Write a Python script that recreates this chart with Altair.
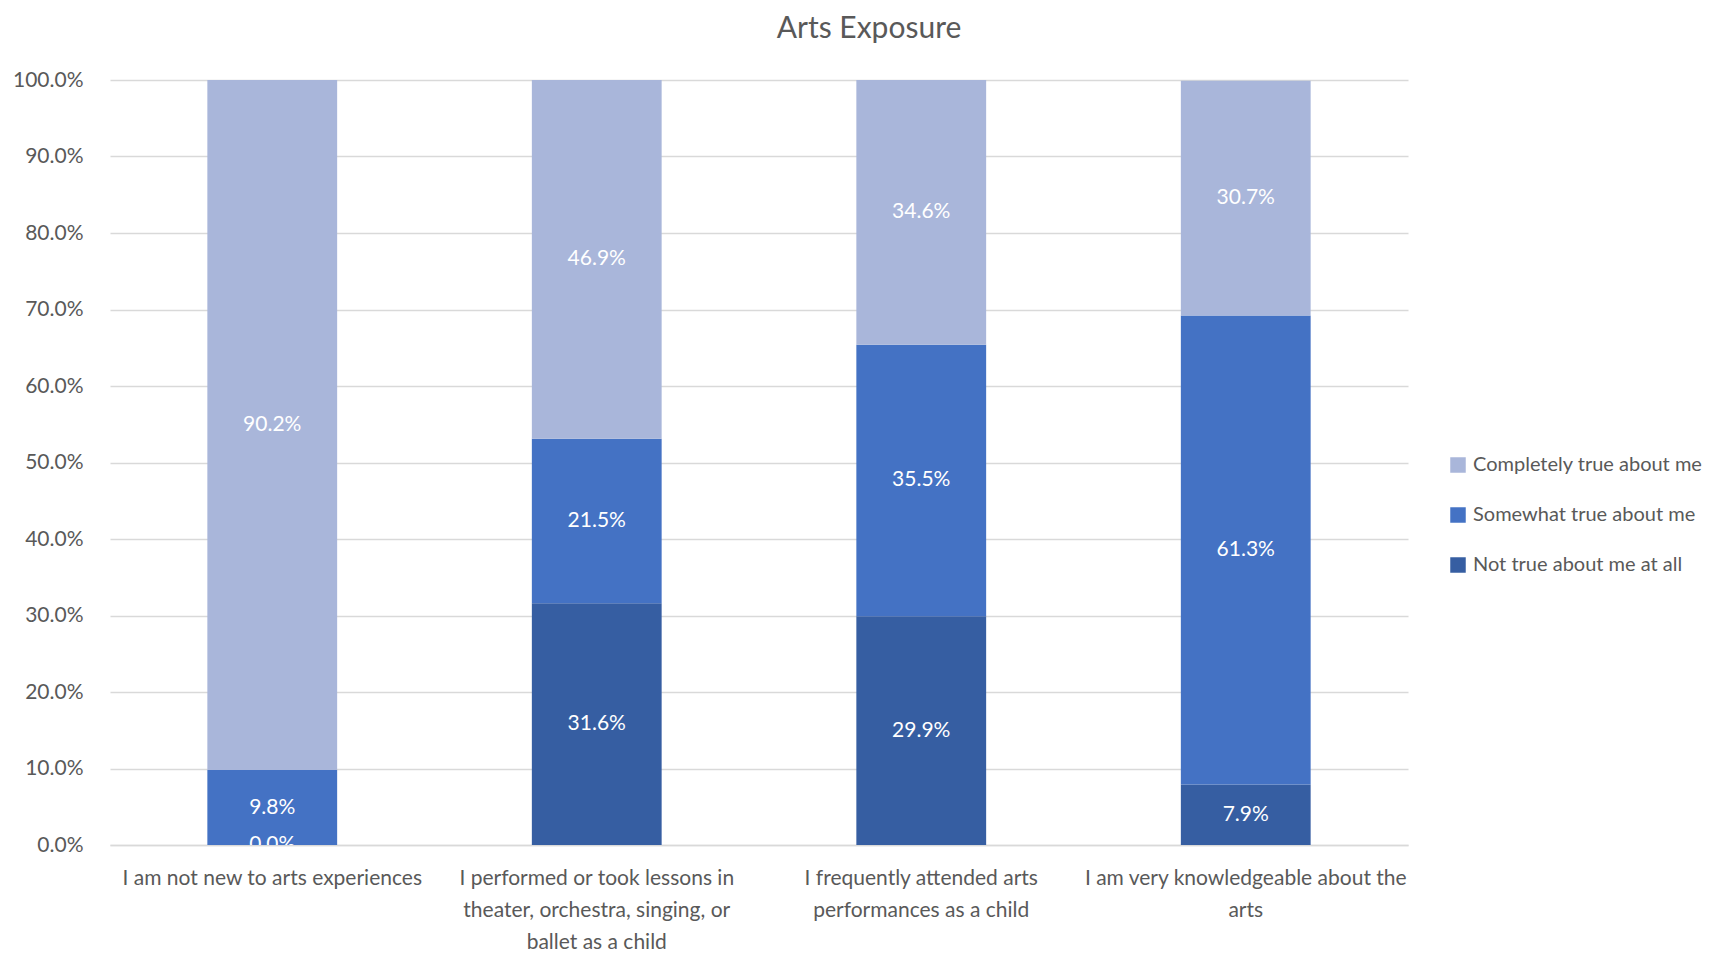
import altair as alt
import pandas as pd

categories = [
    "I am not new to arts experiences",
    "I performed or took lessons in theater, orchestra, singing, or ballet as a child",
    "I frequently attended arts performances as a child",
    "I am very knowledgeable about the arts",
]
label_lines = [
    ["I am not new to arts experiences"],
    ["I performed or took lessons in", "theater, orchestra, singing, or", "ballet as a child"],
    ["I frequently attended arts", "performances as a child"],
    ["I am very knowledgeable about the", "arts"],
]
series = ["Completely true about me", "Somewhat true about me", "Not true about me at all"]
not_true = [0.0, 31.6, 29.9, 7.9]
somewhat = [9.8, 21.5, 35.5, 61.3]
completely = [90.2, 46.9, 34.6, 30.7]
colors = ["#A9B6DA", "#4472C4", "#365EA2"]

rows = []
for i, c in enumerate(categories):
    rows.append({"cat": c, "series": series[2], "ord": 0, "v": not_true[i]})
    rows.append({"cat": c, "series": series[1], "ord": 1, "v": somewhat[i]})
    rows.append({"cat": c, "series": series[0], "ord": 2, "v": completely[i]})
df = pd.DataFrame(rows)

expr = ""
for c, lines in zip(categories, label_lines):
    arr = "[" + ",".join("'" + l + "'" for l in lines) + "]"
    expr += f"datum.label == '{c}' ? {arr} : "
expr += "datum.label"

FONT = "Lato"
GREY = "#595959"

base = alt.Chart(df).transform_calculate(
    frac="datum.v / 100"
).transform_stack(
    stack="frac", groupby=["cat"], as_=["y0", "y1"], sort=[alt.SortField("ord", order="ascending")]
).transform_calculate(
    mid="(datum.y0 + datum.y1) / 2"
)

x = alt.X("cat:N", sort=categories, title=None,
          scale=alt.Scale(paddingInner=0.6, paddingOuter=0.3),
          axis=alt.Axis(labelAngle=0, labelExpr=expr, labelFontSize=21, labelColor=GREY,
                        labelFont=FONT, labelPadding=22, labelLineHeight=32,
                        ticks=False, domain=True, domainColor="#D9D9D9", domainWidth=1.5,
                        labelLimit=400))

bars = base.mark_bar().encode(
    x=x,
    y=alt.Y("y0:Q", title=None, scale=alt.Scale(domain=[0, 1]),
            axis=alt.Axis(format=".1%", values=[i / 10 for i in range(11)], labelFontSize=21,
                          labelColor=GREY, labelFont=FONT, labelPadding=27, ticks=False,
                          domain=False, gridColor="#D9D9D9", gridWidth=1.5)),
    y2="y1:Q",
    color=alt.Color("series:N", scale=alt.Scale(domain=series, range=colors),
                    legend=alt.Legend(title=None, orient="none", legendX=1338, legendY=375,
                                      symbolType="square", symbolSize=240, symbolStrokeWidth=0,
                                      labelFontSize=20, labelColor=GREY, labelFont=FONT,
                                      rowPadding=30, labelOffset=5, labelLimit=400)),
)

text = base.mark_text(color="white", fontSize=21, font=FONT, clip=True).encode(
    x=alt.X("cat:N", sort=categories),
    y=alt.Y("mid:Q"),
    text=alt.Text("frac:Q", format=".1%"),
)

chart = alt.layer(bars, text).properties(
    width=1298, height=765,
    title=alt.TitleParams("Arts Exposure", fontSize=30, font=FONT, color=GREY,
                          fontWeight="normal", anchor="middle", dx=110, offset=25),
    autosize=alt.AutoSizeParams(type="none"),
    padding={"left": 102, "top": 72, "right": 303, "bottom": 106},
).configure_view(stroke=None)

chart.save("out.html", embed_options={"renderer": "svg", "actions": False})
